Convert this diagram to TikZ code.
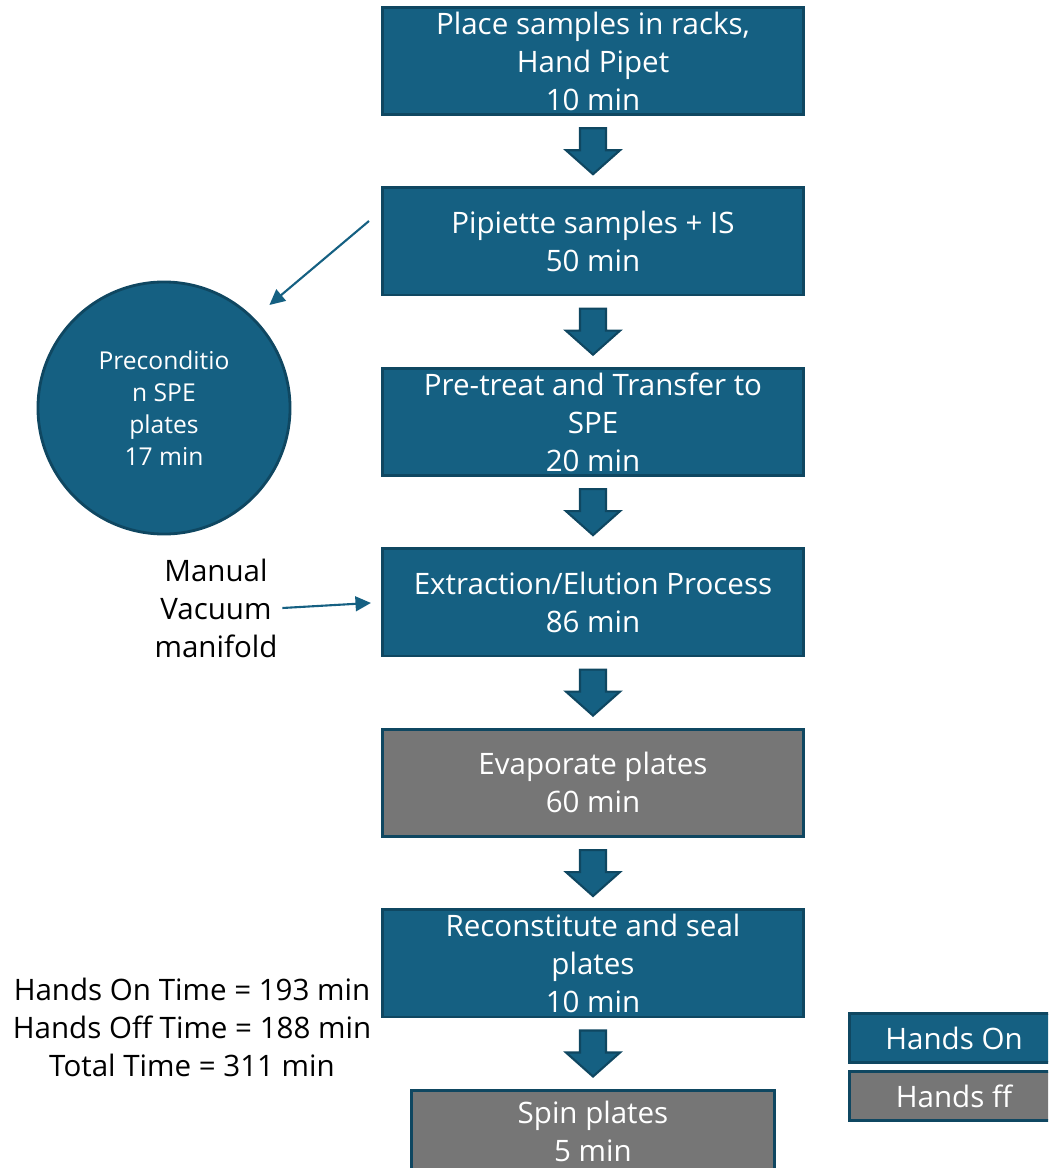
\documentclass[tikz,border=0pt]{standalone}
\usepackage{fontspec}
\setmainfont{Open Sans}
\usetikzlibrary{positioning,calc,arrows.meta}
\definecolor{azul}{HTML}{156082}
\definecolor{azulesc}{HTML}{0F4761}
\definecolor{cinza}{HTML}{767676}
\tikzset{
  etapa/.style={draw=azulesc, line width=2pt, fill=azul, text=white, align=center,
    minimum width=10.53cm, minimum height=2.68cm, inner sep=0pt,
    font=\fontsize{21}{27}\selectfont},
  parada/.style={etapa, fill=cinza},
  seta/.pic={\draw[azulesc, fill=azul, line width=1.5pt] (-13,-23) -- (-13,-1) -- (-27,-1)
      -- (0,23) -- (27,-1) -- (13,-1) -- (13,-23) -- cycle;},
  fina/.style={azul, line width=1.5pt, -{Triangle[length=11pt,width=10.5pt]}}
}
\begin{document}
\begin{tikzpicture}[x=0.025cm, y=-0.025cm, node distance=1.76cm]
      \useasboundingbox (0,0) rectangle (1048,1168);
      \clip (0,0) rectangle (1048,1168);
      % etapas do processo
      \node[etapa] (b1) at (593,61) {Place samples in racks,\\Hand Pipet\\10 min};
      \node[etapa, below=of b1] (b2) {Pipiette samples + IS\\50 min};
      \node[etapa, below=of b2] (b3) {Pre-treat and Transfer to\\SPE\\20 min};
      \node[etapa, below=of b3] (b4) {Extraction/Elution Process\\86 min};
      \node[parada, below=of b4] (b5) {Evaporate plates\\60 min};
      \node[etapa, below=of b5] (b6) {Reconstitute and seal\\plates\\10 min};
      \node[parada, below=of b6, minimum width=9.08cm, minimum height=2.05cm] (b7) {Spin plates\\5 min};
      \foreach \a/\b in {b1/b2,b2/b3,b3/b4,b4/b5,b5/b6,b6/b7}
        \pic at ($(\a.south)!0.5!(\b.north)$) {seta};
      \node[etapa, circle, minimum size=6.3cm, font=\fontsize{17.5}{22.7}\selectfont] (pc)
          at (164,408) {Preconditio\\n SPE\\plates\\17 min};
      \coordinate (pcde) at (369,221);
      \draw[fina, shorten >=0.5cm] (pcde) -- (pc.45);
      \node[align=center, font=\fontsize{21}{27}\selectfont] (mv) at (216,608) {Manual\\Vacuum\\manifold};
      \draw[fina, shorten >=0.25cm] (mv.east) -- (b4.west);
      \node[align=center, font=\fontsize{21}{27}\selectfont] (tempos) at (192,1027)
          {Hands On Time = 193 min\\Hands Off Time = 188 min\\Total Time = 311 min};
      % legenda
      \node[etapa, minimum width=5.23cm, minimum height=1.22cm] (lon) at (954,1038) {Hands On};
      \node[parada, minimum width=5.23cm, minimum height=1.22cm] (loff) at (954,1096) {Hands ff};
\end{tikzpicture}
\end{document}
